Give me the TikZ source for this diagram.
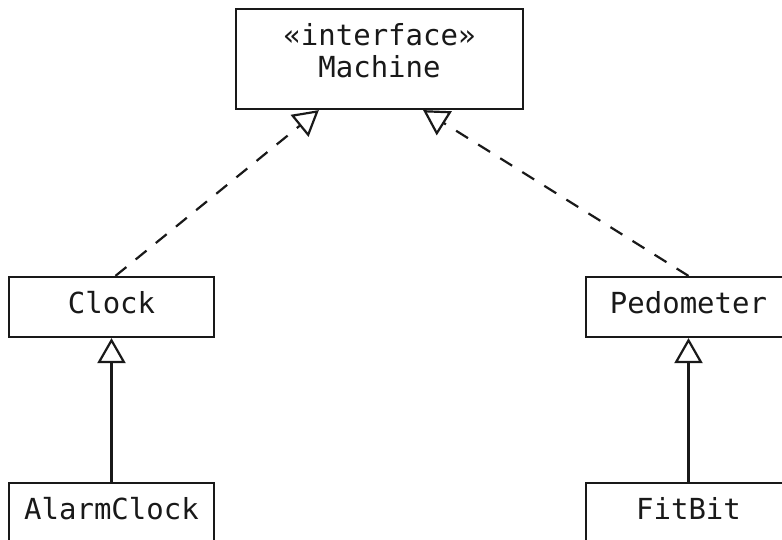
\documentclass[tikz,border=0pt]{standalone}
\usepackage{fontspec}
\newfontfamily\umlfont{DejaVu Sans Mono}
\usetikzlibrary{arrows.meta}
\begin{document}
\begin{tikzpicture}[x=1pt,y=-1pt,
  umltext/.style={font=\umlfont\fontsize{29}{32}\selectfont, text=black!90},
  classbox/.style={draw=black!90, line width=2.2pt, rectangle, inner sep=0pt,
    minimum width=205pt, minimum height=60pt,
    text height=20pt, text depth=8pt, umltext},
  hollowtip/.style={-{Triangle[open, length=25pt, width=28pt, line width=2.2pt]}},
  inherit/.style={draw=black!90, line width=2.2pt, hollowtip},
  realize/.style={draw=black!90, line width=2.2pt, dash pattern=on 14pt off 12pt, hollowtip}
]
\useasboundingbox (0,0) rectangle (782,540);
\clip (0,0) rectangle (782,540);

% interface
\node[draw=black!90, line width=2.2pt, rectangle, inner sep=0pt,
      minimum width=287pt, minimum height=100pt] (machine) at (379.5,59) {};
\node[umltext, anchor=base, inner sep=0pt] (stereo) at (379.5,45.5) {«interface»};
\node[umltext, anchor=base, inner sep=0pt] (mname) at (379.5,77.5) {Machine};

% classes
\node[classbox] (clock) at (111.5,307) {Clock};
\node[classbox] (pedometer) at (688.5,307) {Pedometer};
\node[classbox] (alarm) at (111.5,513) {AlarmClock};
\node[classbox] (fitbit) at (688.5,513) {FitBit};

% realizations
\path[realize] ([xshift=4pt]clock.north) -- ([xshift=84pt]machine.south west);
\path[realize] (pedometer.north) -- ([xshift=-101pt]machine.south east);

% generalizations
\path[inherit] (alarm) -- (clock);
\path[inherit] (fitbit) -- (pedometer);
\end{tikzpicture}
\end{document}
